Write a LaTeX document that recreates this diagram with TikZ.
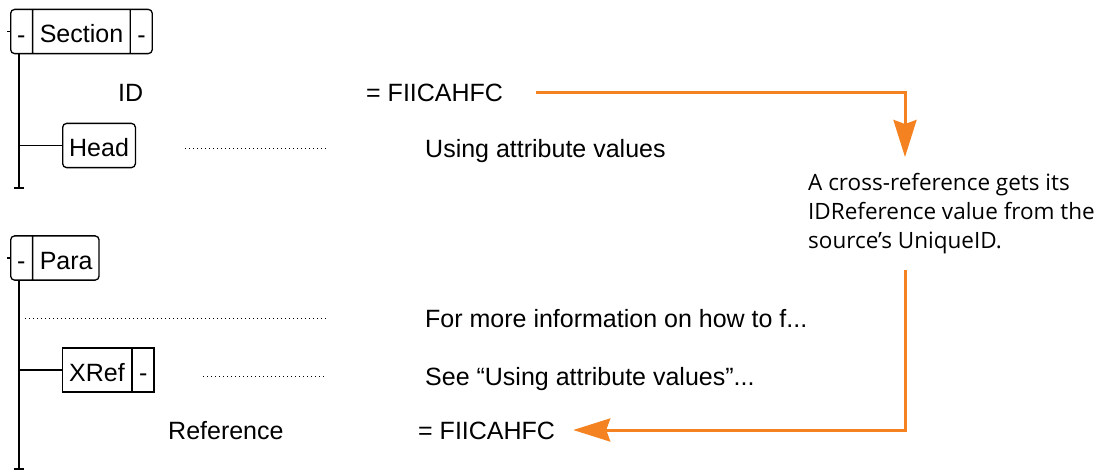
\documentclass[tikz,border=0pt]{standalone}
\usepackage{fontspec}
\setmainfont{Liberation Sans}
\newfontfamily\notefont{Open Sans}
\usetikzlibrary{arrows.meta,shapes.multipart}
\definecolor{xrefarrow}{RGB}{245,130,32}
\newcommand{\elstrut}{\rule{0pt}{23pt}}

\tikzset{
  elem/.style={draw, line width=1.3pt, inner xsep=6.5pt, inner ysep=10.5pt},
  splitelem/.style={elem, rectangle split, rectangle split horizontal, rectangle split parts=#1},
  txt/.style={anchor=west, inner sep=0pt, text height=18pt, text depth=0pt},
  leader/.style={line width=1pt, dash pattern=on 1pt off 3pt},
  trunk/.style={line width=1.5pt},
  idarrow/.style={draw=xrefarrow, line width=3pt, -{Stealth[length=37pt,width=23pt,inset=4pt]}},
}

\begin{document}
\begin{tikzpicture}[x=1pt, y=-1pt, font=\fontsize{25}{30}\selectfont]
  \useasboundingbox (0,0) rectangle (1109,472);

  \node[splitelem=3, rounded corners=4pt, anchor=west] (section) at (10,31.5) {\elstrut-\nodepart{two}\elstrut Section\nodepart{three}\elstrut-};
  \node[elem, rounded corners=4pt, anchor=west] (head) at (62,145.5) {\elstrut Head};
  \node[txt] (idname) at (118,92) {ID};
  \node[txt] (idval) at (366,92) {= FIICAHFC};
  \node[txt] (headtxt) at (425,148) {Using attribute values};

  \node[splitelem=2, rounded corners=4pt, anchor=west] (para) at (10,258) {\elstrut-\nodepart{two}\elstrut Para};
  \node[splitelem=2, anchor=west] (xref) at (62,370) {\elstrut XRef\nodepart{two}\elstrut-};
  \node[txt] (paratxt) at (425,318) {For more information on how to f...};
  \node[txt] (xreftxt) at (425,376) {See “Using attribute values”...};
  \node[txt] (refname) at (168,430) {Reference};
  \node[txt] (refval) at (418,430) {= FIICAHFC};

  \node[anchor=north west, inner sep=0pt, align=left, font=\notefont\fontsize{22.5}{29}\selectfont] (note) at (808,173)
    {A cross-reference gets its\\IDReference value from the\\source’s UniqueID.};

  \coordinate (secend) at (19,188);
  \draw[trunk] (section.south west -| secend) -- (secend);
  \draw[trunk] ([xshift=-5pt]secend) -- ([xshift=5pt]secend);
  \draw[trunk] (section.west) -- ++(-3,0);
  \draw[trunk] (head.west -| secend) -- (head.west);

  \coordinate (paraend) at (19,469);
  \draw[trunk] (para.south west -| paraend) -- (paraend);
  \draw[trunk] ([xshift=-5pt]paraend) -- ([xshift=5pt]paraend);
  \draw[trunk] (para.west) -- ++(-3,0);
  \draw[trunk] (xref.west -| paraend) -- (xref.west);

  \draw[leader] ([xshift=-240pt]headtxt.west) -- ([xshift=-98pt]headtxt.west);
  \draw[leader] ([xshift=-400pt]paratxt.west) -- ([xshift=-98pt]paratxt.west);
  \draw[leader] ([xshift=-222pt]xreftxt.west) -- ([xshift=-98pt]xreftxt.west);

  \coordinate (notein) at (905,157);
  \coordinate (noteout) at (905,270);
  \draw[idarrow] ([xshift=33pt]idval.east) -| (notein);
  \draw[idarrow] (noteout) |- ([xshift=18pt]refval.east);
\end{tikzpicture}
\end{document}
